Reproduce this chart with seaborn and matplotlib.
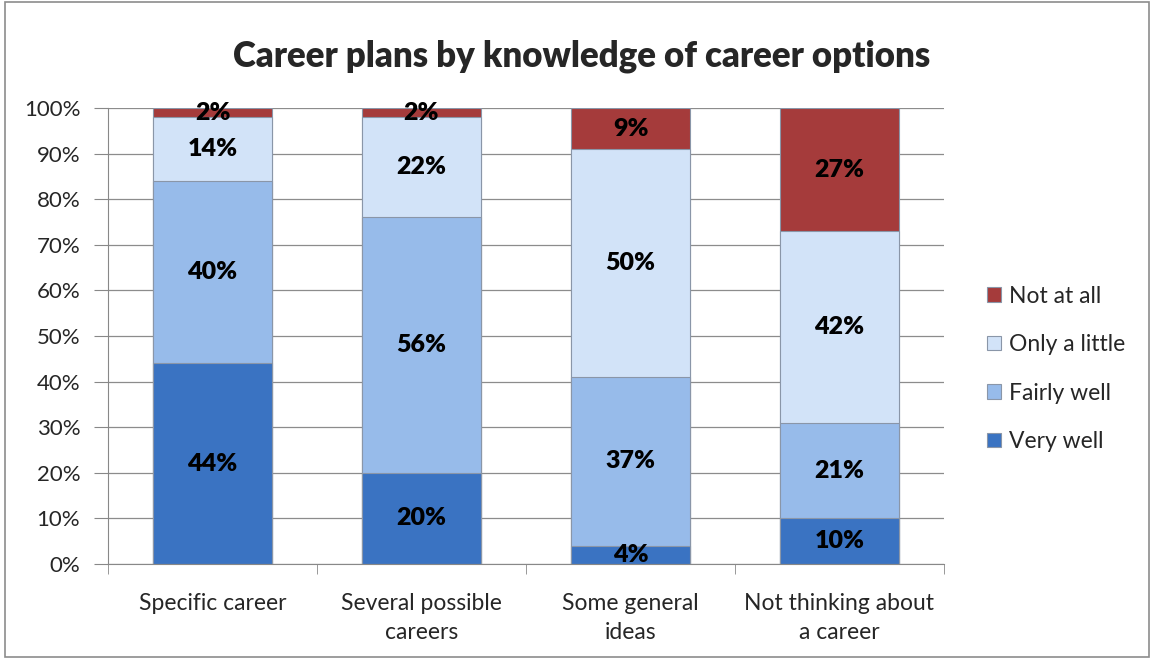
import pandas as pd
import numpy as np
import matplotlib.pyplot as plt
import seaborn as sns
from matplotlib.patches import Rectangle

categories = ["Specific career", "Several possible\ncareers", "Some general\nideas", "Not thinking about\na career"]
series = ["Very well", "Fairly well", "Only a little", "Not at all"]
very_well = [44, 20, 4, 10]
fairly_well = [40, 56, 37, 21]
only_little = [14, 22, 50, 42]
not_at_all = [2, 2, 9, 27]
colors = ["#3A73C2", "#97BBEA", "#D2E3F8", "#A53B3B"]

df = pd.DataFrame({"cat": categories, "Very well": very_well, "Fairly well": fairly_well,
                   "Only a little": only_little, "Not at all": not_at_all})

sns.set_style("white")
plt.rcParams['font.family'] = ['Lato', 'DejaVu Sans']

fig = plt.figure(figsize=(11.52, 6.59), dpi=100)
ax = fig.add_axes([108 / 1152, 95 / 659, 836 / 1152, 456 / 659])

cum = df[series].cumsum(axis=1)
# draw tallest first so lower segments sit on top
for s, c in reversed(list(zip(series, colors))):
    sns.barplot(x=df["cat"], y=cum[s], color=c, width=0.574, ax=ax,
                edgecolor="#8a96a8", linewidth=0.8, label=s, saturation=1)

for i in range(len(categories)):
    bottom = 0
    for s in series:
        v = df.loc[i, s]
        ax.text(i, bottom + v / 2, f"{v}%", ha="center", va="center",
                fontsize=18, fontweight="heavy", color="black")
        bottom += v

ax.set_ylim(0, 100)
ax.set_xlim(-0.5, 3.5)
ax.set_yticks(np.arange(0, 101, 10))
ax.set_yticklabels([f"{t}%" for t in range(0, 101, 10)], fontsize=16)
ax.set_xticks(range(4))
ax.set_xticklabels(categories, fontsize=16.5, linespacing=1.45)
ax.set_xticks(np.arange(-0.5, 4, 1), minor=True)
ax.tick_params(axis="x", which="major", length=0, pad=21)
ax.tick_params(axis="x", which="minor", length=7, color="#888888", bottom=True)
ax.tick_params(axis="y", length=10, color="#888888", left=True, pad=10)
ax.set_xlabel("")
ax.set_ylabel("")
ax.yaxis.grid(True, color="#8c8c8c", linewidth=0.9)
ax.set_axisbelow(True)
for sp in ["top", "right"]:
    ax.spines[sp].set_visible(False)
ax.spines["left"].set_color("#888888")
ax.spines["bottom"].set_color("#888888")

handles, labels = ax.get_legend_handles_labels()
ax.legend(handles, labels, loc="center left", bbox_to_anchor=(1.027, 0.428), frameon=False,
          fontsize=16.5, labelspacing=1.2, handlelength=0.6, handleheight=0.6, handletextpad=0.35)

fig.text(0.505, 0.915, "Career plans by knowledge of career options", ha="center", va="center",
         fontsize=25, fontweight="heavy")
fig.patches.append(Rectangle((0.004, 0.003), 0.993, 0.994, transform=fig.transFigure,
                             fill=False, edgecolor="#8c8c8c", linewidth=1.2))

fig.savefig("out.png", dpi=100)
